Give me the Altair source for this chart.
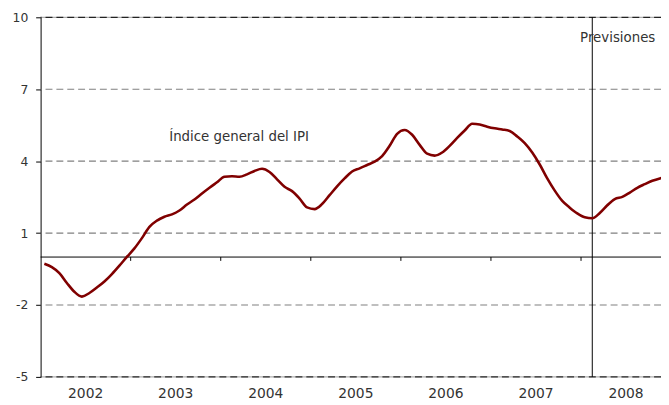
import altair as alt
import pandas as pd

# Monthly IPI index (year-on-year %, smoothed), Jan 2002 onwards
ipi_values = [
    -0.28, -0.42, -0.67, -1.08, -1.45, -1.65, -1.50, -1.27, -1.02, -0.71, -0.36, 0.01,   # 2002
    0.36, 0.79, 1.26, 1.52, 1.68, 1.78, 1.94, 2.19, 2.40, 2.65, 2.89, 3.12,             # 2003
    3.35, 3.37, 3.35, 3.45, 3.59, 3.68, 3.55, 3.24, 2.93, 2.75, 2.44, 2.07,             # 2004
    2.00, 2.21, 2.58, 2.95, 3.28, 3.57, 3.70, 3.84, 3.98, 4.21, 4.64, 5.14,             # 2005
    5.30, 5.10, 4.68, 4.31, 4.23, 4.36, 4.64, 4.97, 5.28, 5.56, 5.53, 5.44,             # 2006
    5.37, 5.32, 5.26, 5.03, 4.75, 4.36, 3.86, 3.28, 2.77, 2.34, 2.06, 1.82,             # 2007
    1.66, 1.62, 1.84, 2.16, 2.42, 2.51, 2.69, 2.89, 3.04, 3.18, 3.28, 3.35,             # 2008
]
start_year = 2002
year_labels = ["2002", "2003", "2004", "2005", "2006", "2007", "2008"]
grid_levels = [7, 4, 1, -2]
frame_levels = [10, -5]
y_ticks = [-5, -2, 1, 4, 7, 10]
forecast_start = 2008 + 1.5 / 12
series_label = "Índice general del IPI"
forecast_label = "Previsiones"

line_df = pd.DataFrame({
    "t": [start_year + (i + 0.5) / 12 for i in range(len(ipi_values))],
    "v": ipi_values,
})
years_df = pd.DataFrame({"label": year_labels,
                         "t": [int(y) + 0.5 for y in year_labels]})
ticks_df = pd.DataFrame({"t": [int(y) for y in year_labels[1:]]})
grid_df = pd.DataFrame({"v": grid_levels})
frame_df = pd.DataFrame({"v": frame_levels})

X_DOM = [2002, 2008.888]
Y_DOM = [-5, 10]
xs = alt.Scale(domain=X_DOM, nice=False, zero=False)
ys = alt.Scale(domain=Y_DOM, nice=False, zero=False)
FONT = "DejaVu Sans"
TXT = "#333333"

base_y_axis = alt.Axis(values=y_ticks, grid=False, domain=True, domainColor="#000000",
                       tickColor="#000000", tickSize=5, labelPadding=8, labelFont=FONT,
                       labelFontSize=12.5, labelColor=TXT, title=None,
                       labelExpr="'' + datum.value")

grid = alt.Chart(grid_df).mark_rule(color="#808080", strokeDash=[7, 4], strokeWidth=1.2).encode(
    y=alt.Y("v:Q", scale=ys, axis=base_y_axis))

frame_solid = alt.Chart(frame_df).mark_rule(color="#999999", strokeWidth=1).encode(
    y=alt.Y("v:Q", scale=ys))
frame_dash = alt.Chart(frame_df).mark_rule(color="#000000", strokeDash=[7, 4], strokeWidth=1).encode(
    y=alt.Y("v:Q", scale=ys))

zero = alt.Chart(pd.DataFrame({"v": [0]})).mark_rule(color="#000000", strokeWidth=1).encode(
    y=alt.Y("v:Q", scale=ys))

xticks = alt.Chart(ticks_df).mark_rule(color="#000000", strokeWidth=1).encode(
    x=alt.X("t:Q", scale=xs, axis=None),
    y=alt.datum(0), y2=alt.datum(-0.16))

forecast = alt.Chart(pd.DataFrame({"t": [forecast_start]})).mark_rule(
    color="#000000", strokeWidth=1).encode(
    x=alt.X("t:Q", scale=xs, axis=None),
    y=alt.datum(10), y2=alt.datum(-5))

line = alt.Chart(line_df).mark_line(color="#800000", strokeWidth=2.6, clip=True,
                                    interpolate="monotone").encode(
    x=alt.X("t:Q", scale=xs, axis=None),
    y=alt.Y("v:Q", scale=ys))

years = alt.Chart(years_df).mark_text(font=FONT, fontSize=14, color=TXT,
                                      baseline="alphabetic", align="center").encode(
    x=alt.X("t:Q", scale=xs, axis=None),
    y=alt.value(385),
    text="label:N")

lbl1 = alt.Chart(pd.DataFrame({"t": [2003.428], "v": [4.82], "s": [series_label]})).mark_text(
    font=FONT, fontSize=13.5, color=TXT, align="left", baseline="alphabetic").encode(
    x=alt.X("t:Q", scale=xs, axis=None), y=alt.Y("v:Q", scale=ys), text="s:N")

lbl2 = alt.Chart(pd.DataFrame({"t": [2007.99], "v": [8.95], "s": [forecast_label]})).mark_text(
    font=FONT, fontSize=13.5, color=TXT, align="left", baseline="alphabetic").encode(
    x=alt.X("t:Q", scale=xs, axis=None), y=alt.Y("v:Q", scale=ys), text="s:N")

chart = alt.layer(grid, frame_solid, frame_dash, zero, xticks, forecast, line, years, lbl1, lbl2).properties(
    width=628, height=364,
    autosize=alt.AutoSizeParams(type="none"),
    padding={"left": 33, "top": 7, "right": 0, "bottom": 26},
).configure_view(strokeWidth=0)

chart.save("out.html", embed_options={"renderer": "svg", "actions": False})
